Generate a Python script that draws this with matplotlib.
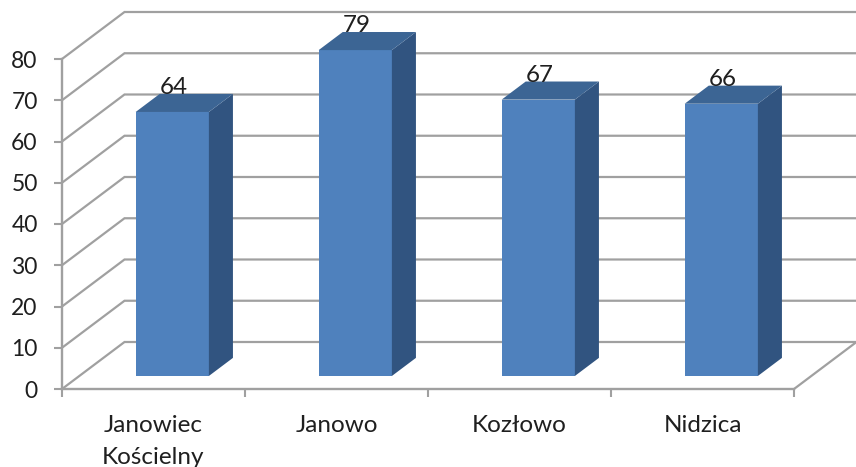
import numpy as np
import matplotlib
matplotlib.use('Agg')
import matplotlib.pyplot as plt
from matplotlib.patches import Polygon

categories = ['Janowiec\nKościelny', 'Janowo', 'Kozłowo', 'Nidzica']
values = [64, 79, 67, 66]
y_ticks = [0, 10, 20, 30, 40, 50, 60, 70, 80]

plt.rcParams['font.family'] = ['Lato', 'DejaVu Sans']

W, H = 856, 467
# oblique depth of the fake 3d box, in data units
depth_x = 62.5 / 183
depth_y = 47 / 4.125
bar_w = 0.40
bar_f = 0.277   # where the bar front sits in the depth
bar_d = 0.385   # how deep the bar is
shift = 0.008

grid_col = '#a0a0a0'
front_col = '#4f81bd'
side_col = '#315480'
top_col = '#3c6594'
text_col = '#1f1f1f'

fig = plt.figure(figsize=(W / 100, H / 100), dpi=100)
ax = fig.add_axes([62 / W, (H - 389) / H, (794 - 62) / W, (389 - 59) / H])
n = len(categories)
ax.set_xlim(0, n)
ax.set_ylim(0, 80)

# back wall lines and the diagonals on the side wall
for t in y_ticks:
    ax.plot([0, depth_x, n + depth_x], [t, t + depth_y, t + depth_y], color=grid_col,
            lw=1.6, clip_on=False, zorder=1, solid_joinstyle='miter')
# floor right edge
ax.plot([n, n + depth_x], [0, depth_y], color=grid_col, lw=1.6, clip_on=False, zorder=1)

x = np.arange(n) + 0.5
ax.bar(x + bar_f * depth_x + shift, values, bar_w, bottom=bar_f * depth_y,
       color=front_col, zorder=3, clip_on=False)

for xc, v in zip(x, values):
    x0 = xc + bar_f * depth_x + shift - bar_w / 2
    x1 = x0 + bar_w
    y0 = bar_f * depth_y
    y1 = y0 + v
    ox, oy = bar_d * depth_x, bar_d * depth_y
    ax.add_patch(Polygon([(x1, y0), (x1 + ox, y0 + oy), (x1 + ox, y1 + oy), (x1, y1)],
                         closed=True, facecolor=side_col, edgecolor='none', zorder=3, clip_on=False))
    ax.add_patch(Polygon([(x0, y1), (x1, y1), (x1 + ox, y1 + oy), (x0 + ox, y1 + oy)],
                         closed=True, facecolor=top_col, edgecolor='none', zorder=3, clip_on=False))
    ax.text(xc + bar_f * depth_x + shift + 0.007, y1 + 5.9, str(v), ha='center', va='center',
            fontsize=17.5, color=text_col, zorder=4, clip_on=False)

for s in ['top', 'right']:
    ax.spines[s].set_visible(False)
for s in ['left', 'bottom']:
    ax.spines[s].set_color(grid_col)
    ax.spines[s].set_linewidth(1.7)
    ax.spines[s].set_zorder(2)

ax.set_yticks(y_ticks)
ax.set_xticks(np.arange(n + 1))
ax.set_xticklabels([])
ax.set_xticks(x, minor=True)
ax.set_xticklabels(categories, minor=True, linespacing=1.65)
ax.tick_params(axis='x', which='major', length=5.5, width=1.5, color=grid_col)
ax.tick_params(axis='x', which='minor', length=0, pad=18.5, labelsize=17.5, labelcolor=text_col)
ax.tick_params(axis='y', length=5.5, width=1.5, color=grid_col, pad=12, labelsize=16.5, labelcolor=text_col)

fig.savefig('out.png', dpi=100)
